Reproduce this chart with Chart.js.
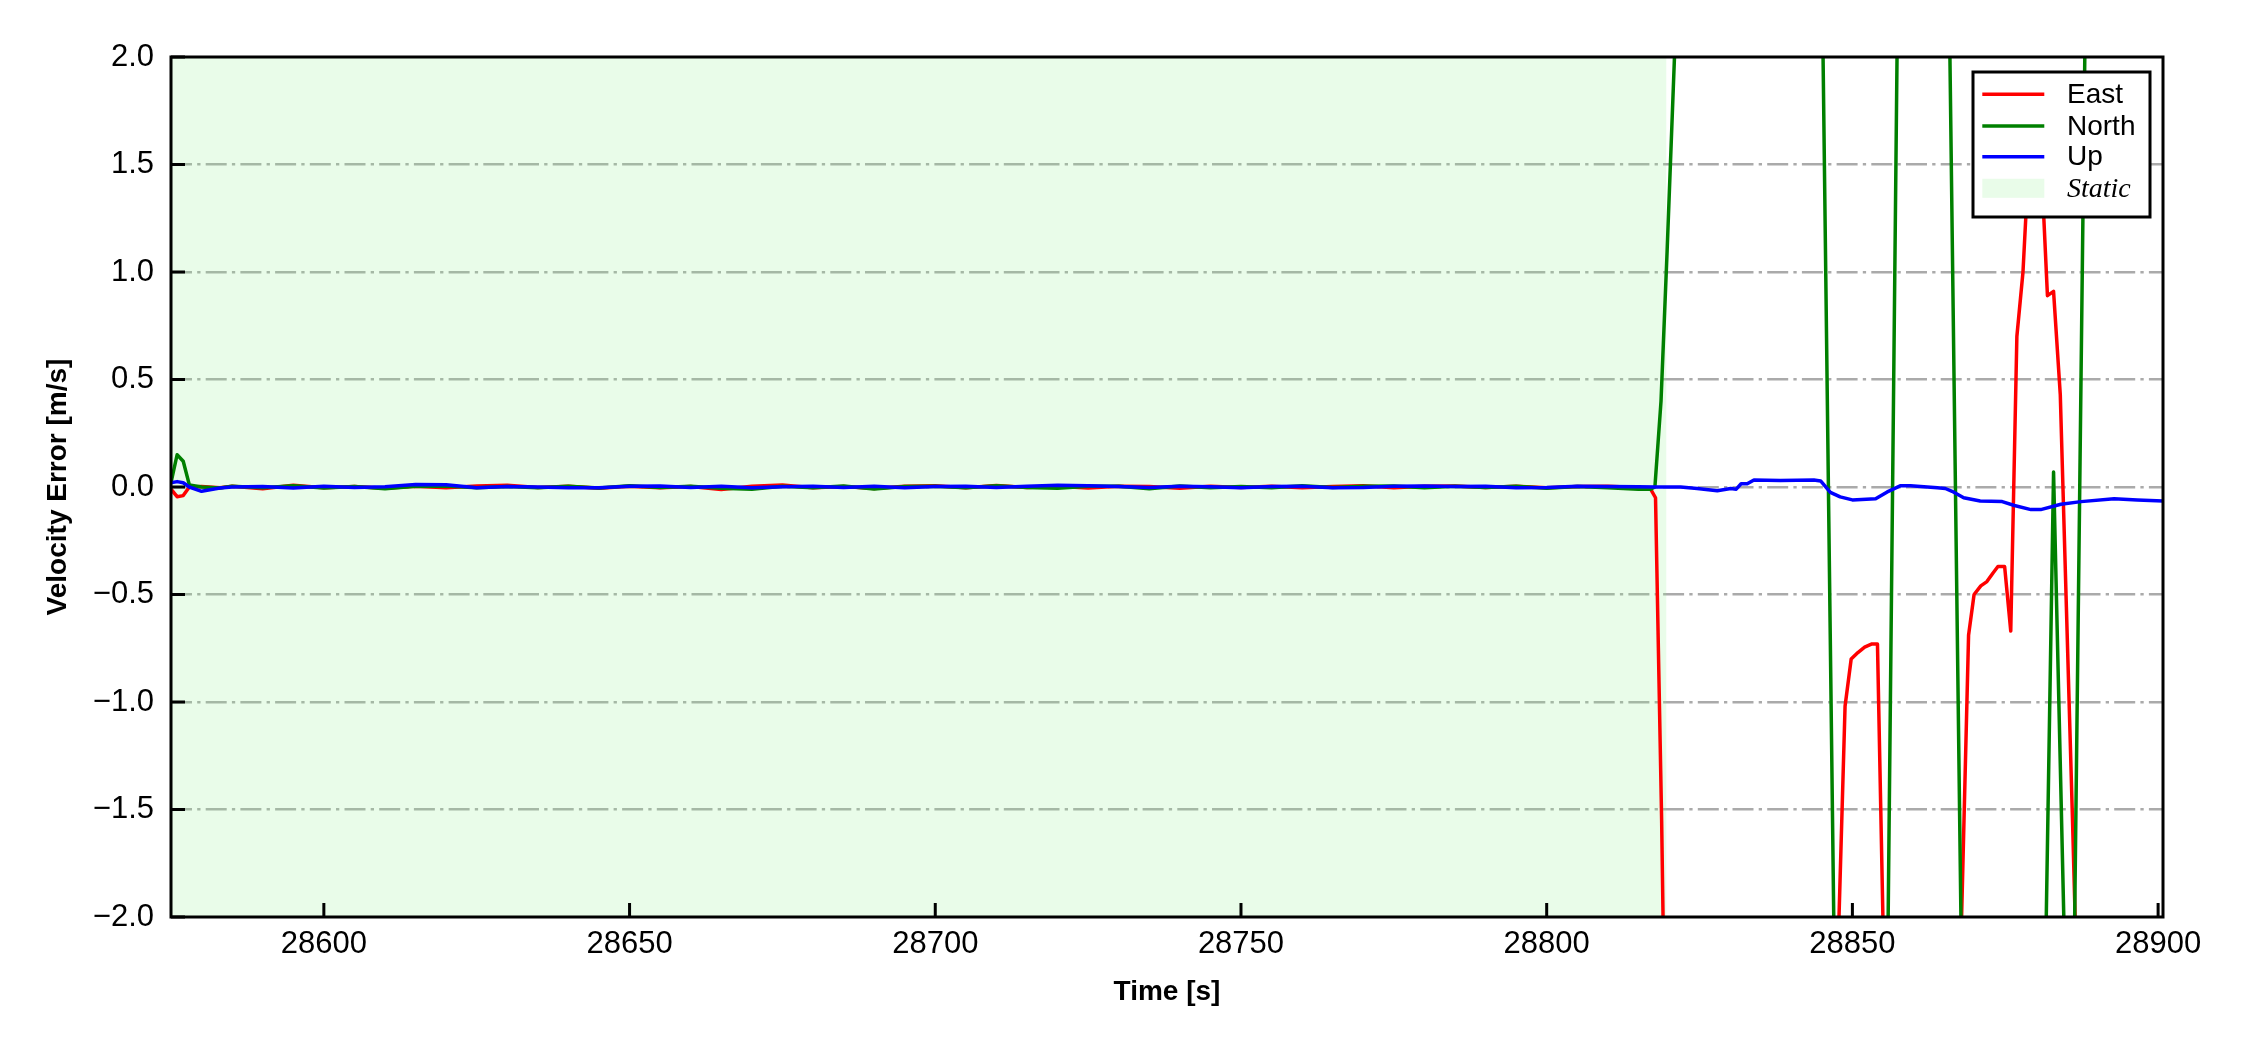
<!DOCTYPE html>
<html>
<head>
<meta charset="utf-8">
<script src="https://cdn.jsdelivr.net/npm/chart.js@4/dist/chart.umd.min.js"></script>
<style>
html,body{margin:0;padding:0;background:#ffffff;}
canvas{display:block;}
</style>
</head>
<body>
<canvas id="c" width="2250" height="1050"></canvas>
<script>
// ---------- data ----------
// calm / static phase, shared time stamps
const calmT = [28575, 28576, 28577, 28578, 28580, 28583,
  28585, 28590, 28595, 28600, 28605, 28610, 28615, 28620, 28625, 28630,
  28635, 28640, 28645, 28650, 28655, 28660, 28665, 28670, 28675, 28680,
  28685, 28690, 28695, 28700, 28705, 28710, 28715, 28720, 28725, 28730,
  28735, 28740, 28745, 28750, 28755, 28760, 28765, 28770, 28775, 28780,
  28785, 28790, 28795, 28800, 28805, 28810, 28815];
const eastCalm = [-0.01, -0.045, -0.04, 0.0, 0.002, -0.003,
  0.003, -0.008, 0.008, -0.004, 0.002, -0.006, 0.004, -0.003, 0.005, 0.008,
  -0.002, 0.004, -0.006, 0.003, -0.004, 0.002, -0.012, 0.004, 0.009, -0.003,
  0.002, -0.007, 0.003, 0.006, -0.004, 0.007, -0.002, 0.003, -0.005, 0.004,
  0.002, -0.006, 0.003, -0.002, 0.004, -0.003, 0.002, 0.006, -0.004, 0.003,
  0.005, -0.002, 0.003, -0.004, 0.002, 0.003, -0.002];
const northCalm = [0.02, 0.15, 0.12, 0.01, 0.0, -0.005,
  0.004, -0.003, 0.006, -0.005, 0.002, -0.008, 0.003, 0.005, -0.004, 0.002,
  -0.003, 0.004, -0.005, 0.006, -0.002, 0.003, -0.006, -0.01, 0.003, -0.004,
  0.005, -0.009, 0.002, 0.004, -0.003, 0.006, -0.002, -0.006, 0.004, 0.003,
  -0.008, 0.005, -0.003, 0.002, -0.004, 0.006, -0.002, 0.003, 0.005, -0.003,
  0.004, -0.002, 0.003, -0.006, 0.002, -0.004, -0.01];
const upCalm = [0.02, 0.025, 0.02, 0.0, -0.02, -0.005,
  0.0, 0.002, -0.005, 0.003, -0.002, 0.001, 0.012, 0.01, -0.004, 0.002,
  0.0, -0.003, -0.003, 0.004, 0.005, -0.002, 0.003, -0.004, 0.001, 0.004,
  -0.002, 0.003, -0.003, 0.002, 0.004, -0.002, 0.003, 0.008, 0.006, 0.002,
  -0.002, 0.003, 0.001, -0.003, 0.002, 0.004, -0.003, -0.002, 0.003, 0.005,
  0.002, 0.004, -0.003, -0.002, 0.003, 0.002, 0.001];

// moving phase, per series
const eastT = [28817.0, 28817.8, 28818.8, 28819.8, 28830, 28840, 28846.8,
  28848.8, 28849.8, 28850.9, 28852.0, 28853.2, 28854.1,
  28855.2, 28860, 28867.6,
  28869.0, 28869.9, 28871.0, 28872.0, 28873.0, 28873.8, 28874.9, 28875.9,
  28876.9, 28877.9, 28878.9, 28879.9, 28880.9, 28881.9, 28882.9, 28884.0,
  28885.0, 28886.0, 28887.0, 28895, 28900.8];
const eastV = [-0.01, -0.05, -1.55, -3.5, -5.0, -4.5, -3.0,
  -1.02, -0.80, -0.77, -0.745, -0.73, -0.73,
  -2.3, -4.0, -2.3,
  -0.69, -0.50, -0.46, -0.44, -0.40, -0.37, -0.37, -0.67,
  0.70, 1.00, 1.55, 1.80, 1.50, 0.89, 0.91, 0.43,
  -0.56, -1.55, -2.6, -4.0, -3.5];

const northT = [28817.0, 28817.7, 28818.7, 28819.7, 28820.7, 28821.7,
  28830, 28840, 28844.9, 28847.1, 28851,
  28855.6, 28857.6, 28861, 28865.6, 28868.0,
  28874, 28880.9, 28882.9, 28884.9, 28885.9,
  28888.3, 28895, 28900.8];
const northV = [-0.01, 0.0, 0.40, 1.10, 1.85, 2.6,
  4.0, 3.5, 2.69, -2.34, -4.0,
  -2.69, 2.83, 4.5, 2.78, -2.55,
  -5.0, -3.4, 0.07, -2.4, -3.1,
  2.7, 3.5, 3.2];

const upT = [28817.8, 28821.9, 28824.6, 28827.9, 28830.1,
  28831.0, 28831.8, 28832.8, 28833.9, 28838.2,
  28843.7, 28844.8, 28846.4, 28848.0, 28850.0,
  28853.8, 28855.7, 28857.9, 28859.5, 28863.9,
  28865.2, 28866.3, 28868.2, 28870.9, 28874.5,
  28876.5, 28879.2, 28880.8, 28884.1, 28887.4,
  28892.8, 28896.6, 28900.8];
const upV = [0.0, 0.0, -0.007, -0.017, -0.007,
  -0.01, 0.015, 0.015, 0.033, 0.03,
  0.033, 0.028, -0.025, -0.046, -0.06,
  -0.055, -0.023, 0.006, 0.006, -0.004,
  -0.007, -0.02, -0.05, -0.065, -0.068,
  -0.086, -0.105, -0.105, -0.08, -0.068,
  -0.055, -0.06, -0.065];

const staticSpan = [28575, 28819.6];
const seriesNames = ['East', 'North', 'Up'];
const staticName = 'Static';
const xTickValues = [28600, 28650, 28700, 28750, 28800, 28850, 28900];
const yTickValues = [-2, -1.5, -1, -0.5, 0, 0.5, 1, 1.5, 2];
const xRange = [28575, 28900.8];
const yRange = [-2, 2];

// ---------- helpers ----------
function pts(ts, vs) { return ts.map((t, i) => ({x: t, y: vs[i]})); }
const SANS = "'Liberation Sans', Arial, sans-serif";
const SERIF = "'Liberation Serif', 'Times New Roman', serif";
const seriesColors = ['#ff0000', '#008000', '#0000ff'];
const staticColor = 'rgba(144,238,144,0.2)';

const decor = {
  id: 'decor',
  afterDraw(chart) {
    const {ctx, chartArea: a, scales: {x, y}} = chart;
    ctx.save();
    ctx.setLineDash([]);
    ctx.strokeStyle = '#000';
    ctx.lineWidth = 3;
    ctx.beginPath();
    x.ticks.forEach(t => {
      const px = x.getPixelForValue(t.value);
      ctx.moveTo(px, a.bottom); ctx.lineTo(px, a.bottom - 14);
    });
    y.ticks.forEach(t => {
      const py = y.getPixelForValue(t.value);
      ctx.moveTo(a.left, py); ctx.lineTo(a.left + 14, py);
    });
    ctx.stroke();
    ctx.strokeRect(a.left, a.top, a.right - a.left, a.bottom - a.top);

    // legend box (upper right, inside the axes)
    const lw = 177, lh = 145;
    const lx = a.right - 190, ly = a.top + 15;
    ctx.fillStyle = '#ffffff';
    ctx.fillRect(lx, ly, lw, lh);
    ctx.lineWidth = 3;
    ctx.strokeStyle = '#000';
    ctx.strokeRect(lx, ly, lw, lh);
    const rows = [22.3, 54, 84.7, 116.3];
    const ds = chart.data.datasets;
    ctx.textBaseline = 'middle';
    ctx.textAlign = 'left';
    for (let i = 0; i < 3; i++) {
      const cy = ly + rows[i];
      ctx.strokeStyle = ds[i].borderColor;
      ctx.lineWidth = 3.5;
      ctx.beginPath();
      ctx.moveTo(lx + 9.3, cy); ctx.lineTo(lx + 71.3, cy);
      ctx.stroke();
      ctx.fillStyle = '#000';
      ctx.font = '28px ' + SANS;
      ctx.fillText(ds[i].label, lx + 94, cy + 1);
    }
    const sy = ly + rows[3];
    ctx.fillStyle = ds[3].backgroundColor;
    ctx.fillRect(lx + 9.3, sy - 9.5, 62, 19);
    ctx.fillStyle = '#000';
    ctx.font = 'italic 28px ' + SERIF;
    ctx.fillText(ds[3].label, lx + 94, sy + 1);
    ctx.restore();
  }
};

const fmtY = v => (v < 0 ? '\u2212' : '') + Math.abs(v).toFixed(1);

new Chart(document.getElementById('c'), {
  type: 'line',
  data: {
    datasets: [
      {label: seriesNames[0], data: pts(calmT.concat(eastT), eastCalm.concat(eastV)),
       borderColor: seriesColors[0], backgroundColor: seriesColors[0], borderWidth: 3.5, order: 2},
      {label: seriesNames[1], data: pts(calmT.concat(northT), northCalm.concat(northV)),
       borderColor: seriesColors[1], backgroundColor: seriesColors[1], borderWidth: 3.5, order: 1},
      {label: seriesNames[2], data: pts(calmT.concat(upT), upCalm.concat(upV)),
       borderColor: seriesColors[2], backgroundColor: seriesColors[2], borderWidth: 3.5, order: 0},
      {label: staticName, data: [{x: staticSpan[0], y: yRange[1]}, {x: staticSpan[1], y: yRange[1]}],
       borderColor: 'rgba(0,0,0,0)', borderWidth: 0, backgroundColor: staticColor,
       fill: 'start', order: 3}
    ]
  },
  options: {
    responsive: false,
    animation: false,
    devicePixelRatio: 1,
    layout: {padding: {top: 57, right: 87, left: 0, bottom: 0}},
    elements: {
      line: {borderWidth: 3.5, tension: 0, borderJoinStyle: 'round', fill: false},
      point: {radius: 0, hoverRadius: 0}
    },
    plugins: {legend: {display: false}, tooltip: {enabled: false}},
    scales: {
      x: {
        type: 'linear', position: 'bottom',
        min: xRange[0], max: xRange[1],
        afterBuildTicks: s => { s.ticks = xTickValues.map(v => ({value: v})); },
        afterFit: s => { s.height = 133; },
        ticks: {
          font: {family: SANS, size: 31}, color: '#000', padding: 9,
          maxRotation: 0, autoSkip: false, callback: v => String(v)
        },
        grid: {drawOnChartArea: false, drawTicks: false},
        border: {display: false},
        title: {display: true, text: 'Time [s]', color: '#000',
          font: {family: SANS, size: 28, weight: 'bold'}, padding: {top: 0, bottom: 41}}
      },
      y: {
        type: 'linear', position: 'left',
        min: yRange[0], max: yRange[1],
        afterBuildTicks: s => { s.ticks = yTickValues.map(v => ({value: v})); },
        afterFit: s => { s.width = 171; },
        ticks: {
          font: {family: SANS, size: 31}, color: '#000', padding: 17,
          autoSkip: false, callback: v => fmtY(v)
        },
        grid: {
          drawTicks: false, lineWidth: 2.5,
          color: c => (c.tick && Math.abs(c.tick.value) === 2) ? 'rgba(0,0,0,0)' : '#aaaaaa'
        },
        border: {display: false, dash: [21, 5.2, 3.3, 5.2]},
        title: {display: true, text: 'Velocity Error [m/s]', color: '#000',
          font: {family: SANS, size: 28, weight: 'bold'}, padding: {top: 41, bottom: 0}}
      }
    }
  },
  plugins: [decor]
});
</script>
</body>
</html>
